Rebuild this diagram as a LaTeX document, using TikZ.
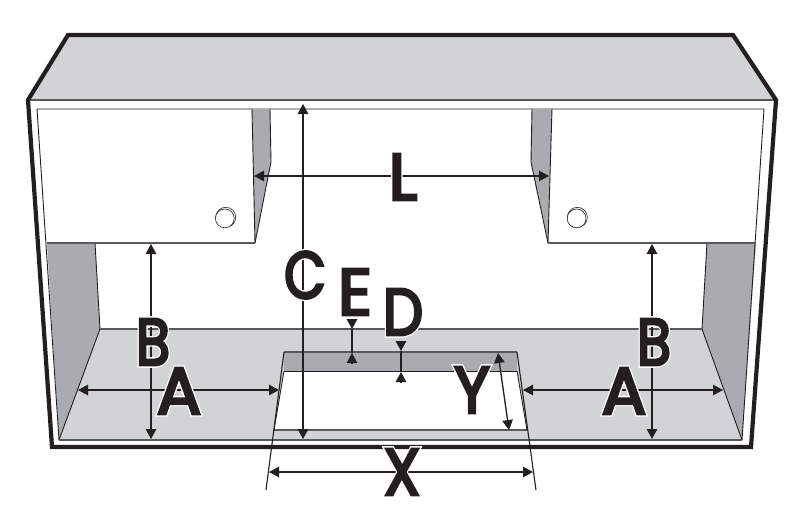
\documentclass[tikz,border=0pt]{standalone}
\usepackage{fontspec}
\setmainfont{Poppins}
\newfontfamily\halofont{Poppins}[FakeBold=8.5]
\newfontfamily\inkfont{Poppins}[FakeBold=4.4]
\usetikzlibrary{arrows.meta}
\definecolor{ink}{HTML}{231F20}
\definecolor{floorgray}{HTML}{D1D3D4}
\definecolor{wallgray}{HTML}{A9ABAE}
\definecolor{edgegray}{HTML}{58595B}
\newcommand\lettermark[1]{\fontsize{66}{66}\selectfont\rlap{\halofont\color{white}#1}{\inkfont #1}}
\tikzset{
  thickedge/.style={draw=ink,line width=4.2pt,line join=miter},
  thinedge/.style={draw=ink,line width=0.9pt},
  softedge/.style={draw=edgegray,line width=1.1pt},
  floorface/.style={fill=floorgray},
  wallface/.style={fill=wallgray},
  dimline/.style={draw=ink,line width=1.3pt},
  dimboth/.style={dimline,{Triangle[length=10pt,width=10.5pt]}-{Triangle[length=10pt,width=10.5pt]}},
  dimend/.style={dimline,-{Triangle[length=10pt,width=10.5pt]}},
  letter/.style={inner sep=0pt,outer sep=0pt,anchor=center,text=ink},
  knob/.style={draw=ink,line width=0.6pt,fill=white},
}
\begin{document}
\begin{tikzpicture}[x=1pt,y=-1pt]
\useasboundingbox (0,0) rectangle (788,506);
% cabinet body
\coordinate (tl) at (68,35);
\coordinate (tr) at (733,35);
\coordinate (cr) at (776,100);
\coordinate (br) at (751,447);
\coordinate (bl) at (52,447);
\coordinate (cl) at (28,100);
\fill[white] (tl) -- (tr) -- (cr) -- (br) -- (bl) -- (cl) -- cycle;
\fill[floorface] (tl) -- (tr) -- (cr) -- (cl) -- cycle;
% floor and side walls
\coordinate (fbl) at (100,329);
\coordinate (fbr) at (702,329);
\coordinate (ffr) at (742,440);
\coordinate (ffl) at (59,440);
\fill[floorface] (fbl) -- (fbr) -- (ffr) -- (ffl) -- cycle;
\fill[wallface] (47,243) -- (95,243) -- (fbl) -- (ffl) -- cycle;
\fill[wallface] (707,243) -- (756,243) -- (ffr) -- (fbr) -- cycle;
\draw[thinedge] (95,243) -- (fbl) -- (ffl);
\draw[thinedge] (707,243) -- (fbr) -- (ffr);
\draw[softedge] (fbl) -- (fbr);
\draw[softedge] (ffl) -- (ffr);
% inner frame
\draw[thinedge] (ffl) -- (37,109) -- (764,109) -- (ffr);
\draw[softedge] (cl) -- (cr);
% door side pieces
\fill[wallface] (252,109) -- (270,109) -- (271,162) -- (255,243) -- cycle;
\draw[thinedge] (270,109) -- (271,162) -- (255,243);
\fill[wallface] (532,109) -- (552,109) -- (548,243) -- (531,162) -- cycle;
\draw[thinedge] (532,109) -- (531,162) -- (548,243);
% doors
\draw[thinedge] (252,109) -- (255,243);
\draw[thinedge] (552,109) -- (548,243);
\draw[softedge] (47,243) -- (255,243);
\draw[softedge] (548,243) -- (756,243);
% knobs
\draw[knob] (225.7,217.3) circle[radius=10];
\draw[knob] (224.8,218.4) circle[radius=9.4];
\draw[knob] (577.4,217.3) circle[radius=10];
\draw[knob] (576.6,218.4) circle[radius=9.4];
% opening
\coordinate (ot1) at (284,352);
\coordinate (ot2) at (517,352);
\coordinate (om1) at (284,371);
\coordinate (om2) at (517,371);
\coordinate (ob1) at (274,430);
\coordinate (ob2) at (527,430);
\coordinate (xl) at (266,490);
\coordinate (xr) at (536,490);
\fill[wallface] (ot1) -- (ot2) -- (om2) -- (om1) -- cycle;
\fill[white] (om1) -- (om2) -- (ob2) -- (ob1) -- cycle;
\draw[softedge] (ot1) -- (ot2);
\draw[thinedge] (om1) -- (om2);
\draw[softedge] (ob1) -- (ob2);
\draw[thinedge] (om1) -- (ob1);
\draw[thinedge] (om2) -- (ob2);
\draw[thinedge,line width=1.1pt] (ot1) -- (xl);
\draw[thinedge,line width=1.1pt] (ot2) -- (xr);
% outer outline
\draw[thickedge] (tl) -- (tr) -- (cr) -- (br) -- (bl) -- (cl) -- cycle;
% dimension lines
\coordinate (c1) at (303,104);
\coordinate (c2) at (303,439);
\draw[dimboth] (c1) -- (c2);
\coordinate (l1) at (254,176);
\coordinate (l2) at (549,176);
\draw[dimboth] (l1) -- (l2);
\coordinate (bl1) at (151,244);
\coordinate (bl2) at (151,439);
\draw[dimboth] (bl1) -- (bl2);
\coordinate (br1) at (652,244);
\coordinate (br2) at (652,439);
\draw[dimboth] (br1) -- (br2);
\coordinate (al1) at (78,390);
\coordinate (al2) at (279,390);
\draw[dimboth] (al1) -- (al2);
\coordinate (ar1) at (523,390);
\coordinate (ar2) at (723,390);
\draw[dimboth] (ar1) -- (ar2);
\coordinate (x1) at (269,472);
\coordinate (x2) at (533,472);
\draw[dimboth] (x1) -- (x2);
\coordinate (y1) at (498,353);
\coordinate (y2) at (509,430);
\draw[dimboth] (y1) -- (y2);
\coordinate (e0) at (352,319);
\coordinate (e1) at (352,329);
\coordinate (e2) at (352,353);
\coordinate (e3) at (352,363);
\draw[dimend] (e0) -- (e1);
\draw[dimline] (e1) -- (e2);
\draw[dimend] (e3) -- (e2);
\coordinate (d0) at (401,341);
\coordinate (d1) at (401,351);
\coordinate (d2) at (401,372);
\coordinate (d3) at (401,382);
\draw[dimend] (d0) -- (d1);
\draw[dimline] (d1) -- (d2);
\draw[dimend] (d3) -- (d2);
% letters
\node[letter,xscale=.85] (lbB) at (153,342) {\lettermark{B}};
\node[letter] (lbA) at (179,391) {\lettermark{A}};
\node[letter,xscale=.85] (rbB) at (654,342) {\lettermark{B}};
\node[letter] (rbA) at (624,391) {\lettermark{A}};
\node[letter,xscale=.82] (lC) at (305,275) {\lettermark{C}};
\node[letter] (lE) at (355,292) {\lettermark{E}};
\node[letter,xscale=.86] (lD) at (403,312) {\lettermark{D}};
\node[letter,xscale=.93] (lY) at (472,390) {\lettermark{Y}};
\node[letter,xscale=.9] (lX) at (402,472) {\lettermark{X}};
\node[letter] (lL) at (403,177) {\lettermark{L}};
\end{tikzpicture}
\end{document}
